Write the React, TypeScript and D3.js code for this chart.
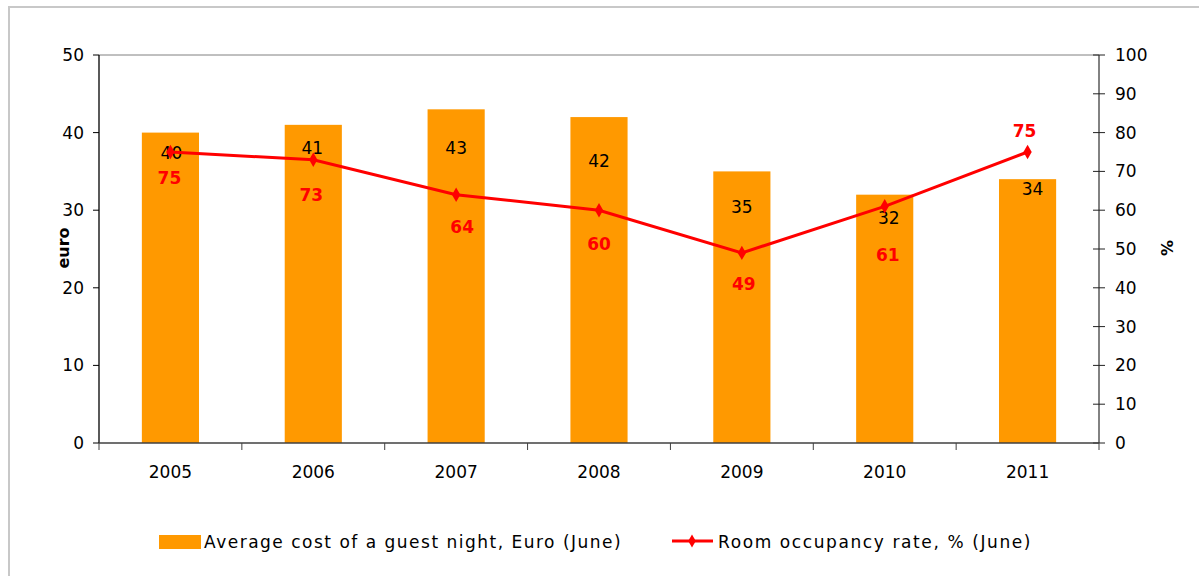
import React from "react";
import { scaleBand, scaleLinear, line, range, symbol, symbolDiamond } from "d3";

// chart data
const years = ["2005", "2006", "2007", "2008", "2009", "2010", "2011"];
const avgCost = [40, 41, 43, 42, 35, 32, 34];
const occupancy = [75, 73, 64, 60, 49, 61, 75];
const leftTicks = [0, 10, 20, 30, 40, 50];
const rightTicks = [0, 10, 20, 30, 40, 50, 60, 70, 80, 90, 100];

// label nudges (px) as placed in the original chart
const barLabelDx = [1, -1, 0, 0, 0, 4, 5];
const barLabelDy = [20, 23, 39, 44, 36, 23, 10];
const lineLabelDx = [-1, -2, 6, 0, 2, 3, -3];
const lineLabelDy = [26, 35, 32, 34, 31, 49, -21];

const FONT = "'DejaVu Sans', Verdana, sans-serif";
const ORANGE = "#FF9900";
const RED = "#FF0000";

const W = 1199;
const H = 576;
const M = { left: 99, right: 1099, top: 55, bottom: 443 };

export default function App() {
  const x = scaleBand<string>()
    .domain(years)
    .range([M.left, M.right])
    .paddingInner(0.6)
    .paddingOuter(0.3);
  const yL = scaleLinear().domain([0, 50]).range([M.bottom, M.top]);
  const yR = scaleLinear().domain([0, 100]).range([M.bottom, M.top]);
  const step = x.step();
  const cx = (i: number) => (x(years[i]) as number) + x.bandwidth() / 2;

  const path = line<number>()
    .x((_, i) => cx(i))
    .y((d) => yR(d))(occupancy) as string;
  const diamond = symbol().type(symbolDiamond).size(60)() as string;
  const diamondLegend = symbol().type(symbolDiamond).size(50)() as string;

  return (
    <svg
      width={W}
      height={H}
      style={{ position: "absolute", left: 0, top: 0, background: "#fff" }}
      fontFamily={FONT}
    >
      <rect x={9} y={7} width={W + 20} height={H + 20} fill="#fff" stroke="#c8c8c8" strokeWidth={2} />

      {/* bars */}
      {avgCost.map((v, i) => (
        <rect
          key={years[i]}
          x={x(years[i])}
          y={yL(v)}
          width={x.bandwidth()}
          height={M.bottom - yL(v)}
          fill={ORANGE}
        />
      ))}

      {/* plot frame top */}
      <line x1={M.left} x2={M.right} y1={M.top} y2={M.top} stroke="#808080" strokeWidth={1} />

      {/* left axis */}
      <line x1={M.left} x2={M.left} y1={M.top} y2={M.bottom} stroke="#000" strokeWidth={1.3} />
      {leftTicks.map((t) => (
        <g key={t}>
          <line x1={M.left - 6} x2={M.left} y1={yL(t)} y2={yL(t)} stroke="#000" />
          <text x={M.left - 15} y={yL(t)} dy="0.35em" textAnchor="end" fontSize={17} fill="#000">
            {t}
          </text>
        </g>
      ))}
      <text
        transform={`translate(69,248) rotate(-90)`}
        textAnchor="middle"
        fontSize={16}
        fontWeight="bold"
        fill="#000"
      >
        euro
      </text>

      {/* right axis */}
      <line x1={M.right} x2={M.right} y1={M.top} y2={M.bottom} stroke="#595959" strokeWidth={1.5} />
      {rightTicks.map((t) => (
        <g key={t}>
          <line x1={M.right - 6} x2={M.right + 6} y1={yR(t)} y2={yR(t)} stroke="#222" />
          <text x={M.right + 16} y={yR(t)} dy="0.35em" textAnchor="start" fontSize={17} fill="#000">
            {t}
          </text>
        </g>
      ))}
      <text
        transform={`translate(1173,248) rotate(-90)`}
        textAnchor="middle"
        fontSize={16}
        fontWeight="bold"
        fill="#000"
      >
        %
      </text>

      {/* bottom axis */}
      <line x1={M.left} x2={M.right} y1={M.bottom} y2={M.bottom} stroke="#404040" strokeWidth={1.5} />
      {range(years.length + 1).map((i) => (
        <line
          key={i}
          x1={M.left + i * step}
          x2={M.left + i * step}
          y1={M.bottom}
          y2={M.bottom + 7}
          stroke="#404040"
        />
      ))}
      {years.map((yr, i) => (
        <text key={yr} x={cx(i)} y={472} dy="0.35em" textAnchor="middle" fontSize={17} fill="#000">
          {yr}
        </text>
      ))}

      {/* bar labels */}
      {avgCost.map((v, i) => (
        <text
          key={years[i]}
          x={cx(i) + barLabelDx[i]}
          y={yL(v) + barLabelDy[i]}
          dy="0.35em"
          textAnchor="middle"
          fontSize={17}
          fill="#000"
        >
          {v}
        </text>
      ))}

      {/* occupancy line */}
      <path d={path} fill="none" stroke={RED} strokeWidth={3} />
      {occupancy.map((v, i) => (
        <path key={years[i]} d={diamond} transform={`translate(${cx(i)},${yR(v)})`} fill={RED} />
      ))}
      {occupancy.map((v, i) => (
        <text
          key={years[i]}
          x={cx(i) + lineLabelDx[i]}
          y={yR(v) + lineLabelDy[i]}
          dy="0.35em"
          textAnchor="middle"
          fontSize={17}
          fontWeight="bold"
          fill={RED}
        >
          {v}
        </text>
      ))}

      {/* legend */}
      <rect x={159} y={535} width={42} height={14} fill={ORANGE} />
      <text x={204} y={548} fontSize={17} letterSpacing={1.5} fill="#000">
        Average cost of a guest night, Euro (June)
      </text>
      <line x1={672} x2={713} y1={541} y2={541} stroke={RED} strokeWidth={3} />
      <path d={diamondLegend} transform="translate(692,541)" fill={RED} />
      <text x={718} y={548} fontSize={17} letterSpacing={1.6} fill="#000">
        Room occupancy rate, % (June)
      </text>
    </svg>
  );
}
